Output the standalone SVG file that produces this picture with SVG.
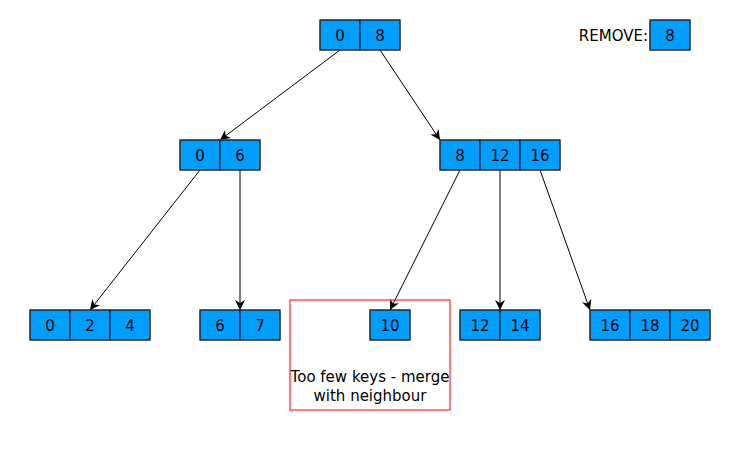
<svg xmlns="http://www.w3.org/2000/svg" width="745" height="461" viewBox="0 0 745 461">
<style>
.c{fill:#009fff;stroke:#000;stroke-width:1}
.o{fill:none;stroke:#36393d;stroke-width:1}
.t{font-family:"DejaVu Sans",sans-serif;font-size:15px;fill:#000;text-anchor:middle}
.e{fill:none;stroke:#000;stroke-width:1}
</style>
<defs>
<marker id="a" viewBox="0 0 10 10" refX="10" refY="5" markerWidth="10" markerHeight="10" markerUnits="userSpaceOnUse" orient="auto">
<path d="M0,0 L10,5 L0,10 L3,5 Z" fill="#000"/>
</marker>
</defs>
<rect width="745" height="461" fill="#fff"/>
<g id="connectors">
<line class="e" x1="340" y1="50" x2="220" y2="140" marker-end="url(#a)"/>
<line class="e" x1="380" y1="50" x2="440" y2="140" marker-end="url(#a)"/>
<line class="e" x1="200" y1="170" x2="90" y2="310" marker-end="url(#a)"/>
<line class="e" x1="240" y1="170" x2="240" y2="310" marker-end="url(#a)"/>
<line class="e" x1="460" y1="170" x2="390" y2="310" marker-end="url(#a)"/>
<line class="e" x1="500" y1="170" x2="500" y2="310" marker-end="url(#a)"/>
<line class="e" x1="540" y1="170" x2="590" y2="310" marker-end="url(#a)"/>
</g>
<g id="root">
<rect class="c" x="320" y="20" width="40" height="30"/><rect class="c" x="360" y="20" width="40" height="30"/>
<rect class="o" x="320" y="20" width="80" height="30"/>
<text class="t" x="340" y="40.5">0</text><text class="t" x="380" y="40.5">8</text>
</g>
<g id="remove">
<text style="font-family:'DejaVu Sans',sans-serif;font-size:15px;text-anchor:end" x="648" y="40.5">REMOVE:</text>
<rect class="c" x="650" y="20" width="40" height="30"/>
<rect class="o" x="650" y="20" width="40" height="30"/>
<text class="t" x="670" y="40.5">8</text>
</g>
<g id="n06">
<rect class="c" x="180" y="140" width="40" height="30"/><rect class="c" x="220" y="140" width="40" height="30"/>
<rect class="o" x="180" y="140" width="80" height="30"/>
<text class="t" x="200" y="160.5">0</text><text class="t" x="240" y="160.5">6</text>
</g>
<g id="n81216">
<rect class="c" x="440" y="140" width="40" height="30"/><rect class="c" x="480" y="140" width="40" height="30"/><rect class="c" x="520" y="140" width="40" height="30"/>
<rect class="o" x="440" y="140" width="120" height="30"/>
<text class="t" x="460" y="160.5">8</text><text class="t" x="500" y="160.5">12</text><text class="t" x="540" y="160.5">16</text>
</g>
<g id="n024">
<rect class="c" x="30" y="310" width="40" height="30"/><rect class="c" x="70" y="310" width="40" height="30"/><rect class="c" x="110" y="310" width="40" height="30"/>
<rect class="o" x="30" y="310" width="120" height="30"/>
<text class="t" x="50" y="330.5">0</text><text class="t" x="90" y="330.5">2</text><text class="t" x="130" y="330.5">4</text>
</g>
<g id="n67">
<rect class="c" x="200" y="310" width="40" height="30"/><rect class="c" x="240" y="310" width="40" height="30"/>
<rect class="o" x="200" y="310" width="80" height="30"/>
<text class="t" x="220" y="330.5">6</text><text class="t" x="260" y="330.5">7</text>
</g>
<g id="note">
<rect x="290" y="300" width="160" height="110" fill="none" stroke="#ff0000" stroke-width="1"/>
<text class="t" x="370" y="382">Too few keys - merge</text>
<text class="t" x="370" y="401">with neighbour</text>
</g>
<g id="n10">
<rect class="c" x="370" y="310" width="40" height="30"/>
<rect class="o" x="370" y="310" width="40" height="30"/>
<text class="t" x="390" y="330.5">10</text>
</g>
<g id="n1214">
<rect class="c" x="460" y="310" width="40" height="30"/><rect class="c" x="500" y="310" width="40" height="30"/>
<rect class="o" x="460" y="310" width="80" height="30"/>
<text class="t" x="480" y="330.5">12</text><text class="t" x="520" y="330.5">14</text>
</g>
<g id="n161820">
<rect class="c" x="590" y="310" width="40" height="30"/><rect class="c" x="630" y="310" width="40" height="30"/><rect class="c" x="670" y="310" width="40" height="30"/>
<rect class="o" x="590" y="310" width="120" height="30"/>
<text class="t" x="610" y="330.5">16</text><text class="t" x="650" y="330.5">18</text><text class="t" x="690" y="330.5">20</text>
</g>
</svg>
